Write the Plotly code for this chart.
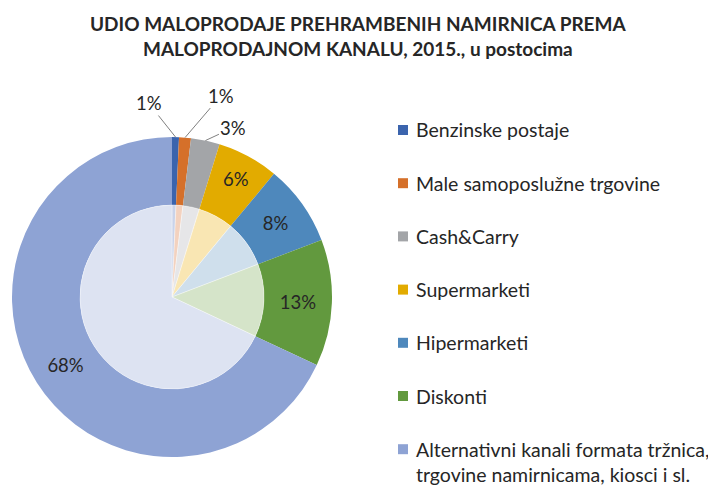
import math
import plotly.graph_objects as go

categories = ["Benzinske postaje", "Male samoposlužne trgovine", "Cash&Carry",
              "Supermarketi", "Hipermarketi", "Diskonti",
              "Alternativni kanali formata tržnica,<br>trgovine namirnicama, kiosci i sl."]
shares = [0.7, 1.2, 2.9, 6.2, 8.2, 12.8, 68.0]
colors = ["#3B64AD", "#D5702A", "#A3A5A8", "#E2AB00", "#4E88BC", "#62993E", "#8EA3D4"]
inner_colors = ["#C9D3EA", "#F3D2BF", "#E6E6E8", "#F9E6B3", "#CFDFEC", "#D5E4C9", "#DDE3F2"]
# small slices get an external label with a leader line (offsets in px)
outside_offsets = {0: (-27, -34), 1: (36, -42), 2: (28, -13)}

# page has an 8px body margin; figure is sized/placed accordingly
W, H = 708, 478
OFF = 8
cx, cy = 172 - OFF, 297 - OFF
R_out, R_in = 160, 92
FONT = "Lato"
TXT = "#262626"

def dom(r):
    yb = H - cy
    return dict(x=[(cx - r) / W, (cx + r) / W], y=[(yb - r) / H, (yb + r) / H])

total = sum(shares)
pct_text = ["" if i in outside_offsets else f"{round(100 * v / total):.0f}%" for i, v in enumerate(shares)]

fig = go.Figure()
fig.add_trace(go.Pie(
    labels=categories, values=shares, sort=False, direction="clockwise", rotation=0,
    hole=R_in / R_out, domain=dom(R_out),
    marker=dict(colors=colors, line=dict(width=0)),
    text=pct_text, textinfo="text", textposition="inside",
    insidetextorientation="horizontal",
    textfont=dict(family=FONT, size=18.5, color=TXT),
    showlegend=False, hoverinfo="label+percent",
))
fig.add_trace(go.Pie(
    labels=categories, values=shares, sort=False, direction="clockwise", rotation=0,
    domain=dom(R_in),
    marker=dict(colors=inner_colors, line=dict(width=0.6, color="rgba(255,255,255,0.6)")),
    textinfo="none", showlegend=False, hoverinfo="label+percent",
))

annotations = []
shapes = []

# outside labels for the small slices, anchored at slice mid-angle on the outer edge
cum = 0.0
for i, v in enumerate(shares):
    mid = (cum + v / 2) / total * 2 * math.pi
    cum += v
    if i in outside_offsets:
        hx = cx + R_out * math.sin(mid)
        hy = cy - R_out * math.cos(mid)
        ax, ay = outside_offsets[i]
        annotations.append(dict(
            x=hx / W, y=1 - hy / H, xref="paper", yref="paper",
            text=f"{round(100 * v / total):.0f}%", showarrow=True, arrowhead=0,
            arrowwidth=1, arrowcolor="#808080", ax=ax, ay=ay, standoff=0,
            font=dict(family=FONT, size=18.5, color=TXT)))

# legend
y0 = 130 - OFF
step = 53.2
for i, (cat, col) in enumerate(zip(categories, colors)):
    yc = y0 + i * step
    shapes.append(dict(type="rect", xref="paper", yref="paper",
                       x0=(398 - OFF) / W, x1=(408 - OFF) / W,
                       y0=1 - (yc + 5) / H, y1=1 - (yc - 5) / H,
                       fillcolor=col, line=dict(width=0)))
    multi = "<br>" in cat
    annotations.append(dict(
        x=(414 - OFF) / W, y=1 - (yc - 13) / H if multi else 1 - yc / H,
        xref="paper", yref="paper", xanchor="left",
        yanchor="top" if multi else "middle", align="left",
        text=cat, showarrow=False,
        font=dict(family=FONT, size=19.5, color=TXT)))

# title
annotations.append(dict(
    x=(358 - OFF) / W, y=1 - (10 - OFF) / H, xref="paper", yref="paper",
    xanchor="center", yanchor="top", showarrow=False, align="center",
    text="<b>UDIO MALOPRODAJE PREHRAMBENIH NAMIRNICA PREMA<br>MALOPRODAJNOM KANALU, 2015., u postocima</b>",
    font=dict(family=FONT, size=19, color=TXT)))

fig.update_layout(
    width=W, height=H, margin=dict(l=0, r=0, t=0, b=0),
    paper_bgcolor="white", plot_bgcolor="white",
    shapes=shapes, annotations=annotations,
)
fig.write_html("out.html")
